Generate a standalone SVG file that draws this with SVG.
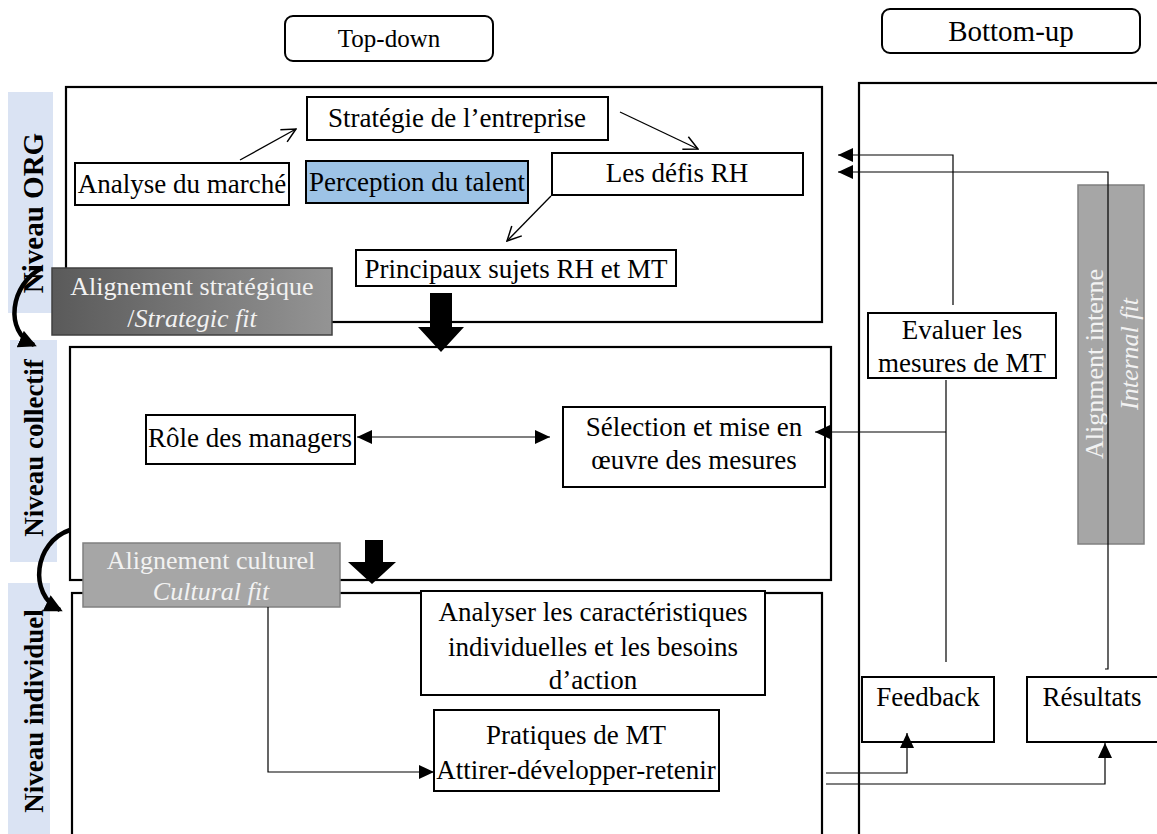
<svg xmlns="http://www.w3.org/2000/svg" width="1157" height="834" viewBox="0 0 1157 834">
<defs>
<style>
.t{font-family:"Liberation Serif","Times New Roman",serif;font-size:27px;fill:#000;text-anchor:middle}
.i{font-style:italic}
.box{fill:#fff;stroke:#000;stroke-width:2}
.lvl{fill:none;stroke:#000;stroke-width:2.2}
.lbl{fill:#dae3f3}
.lt{font-family:"Liberation Serif","Times New Roman",serif;font-weight:bold;font-size:27px;text-anchor:middle;fill:#000}
.gt{font-family:"Liberation Serif","Times New Roman",serif;font-size:26px;fill:#f2f2f2;text-anchor:middle}
.c{fill:none;stroke:#000;stroke-width:1.3}
.thin{fill:none;stroke:#000;stroke-width:1.2}
.curve{fill:none;stroke:#000;stroke-width:4.5}
</style>
<marker id="open" viewBox="0 0 16 16" refX="15" refY="8" markerWidth="16" markerHeight="16" markerUnits="userSpaceOnUse" orient="auto">
<path d="M1,1 L15,8 L1,15" fill="none" stroke="#000" stroke-width="1.5"/>
</marker>
<marker id="fill" viewBox="0 0 15 14" refX="15" refY="7" markerWidth="15" markerHeight="14" markerUnits="userSpaceOnUse" orient="auto-start-reverse">
<path d="M0,0 L15,7 L0,14 z" fill="#000"/>
</marker>
<marker id="big" viewBox="0 0 18 18" refX="15" refY="9" markerWidth="18" markerHeight="18" markerUnits="userSpaceOnUse" orient="auto">
<path d="M0,0 L18,9 L0,18 z" fill="#000"/>
</marker>
<linearGradient id="g1" x1="0" y1="0" x2="1" y2="0">
<stop offset="0" stop-color="#5a5a5a"/>
<stop offset="1" stop-color="#949494"/>
</linearGradient>
</defs>
<rect width="1157" height="834" fill="#fff"/>

<g id="headers">
<g id="top-down"><rect x="285" y="16" width="208" height="45" rx="8" class="box"/><text x="389" y="47" class="t" style="font-size:25px">Top-down</text></g>
<g id="bottom-up"><rect x="882" y="9" width="258" height="44" rx="8" class="box"/><text x="1011" y="41" class="t" style="font-size:29px">Bottom-up</text></g>
</g>

<g id="levels">
<rect id="level-org" x="66" y="87" width="756" height="235" class="lvl"/>
<rect id="level-collectif" x="70" y="347" width="761" height="233" class="lvl"/>
<rect id="level-individuel" x="72" y="593" width="750" height="260" class="lvl"/>
<rect id="bottom-up-panel" x="859" y="83" width="320" height="780" class="lvl"/>
</g>

<g id="level-labels">
<g id="label-org"><rect x="8" y="92" width="45" height="221" class="lbl"/><text transform="translate(43,213) rotate(-90)" class="lt" style="font-size:29px">Niveau ORG</text></g>
<g id="label-collectif"><rect x="10" y="340" width="47" height="222" class="lbl"/><text transform="translate(43,448) rotate(-90)" class="lt">Niveau collectif</text></g>
<g id="label-individuel"><rect x="8" y="583" width="42" height="260" class="lbl"/><text transform="translate(43,711) rotate(-90)" class="lt">Niveau individuel</text></g>
</g>

<g id="fit-boxes">
<g id="strategic-fit"><rect x="52" y="268" width="280" height="67" fill="url(#g1)" stroke="#404040" stroke-width="1.5"/><text x="192" y="295" class="gt">Alignement stratégique</text><text x="192" y="327" class="gt">/<tspan class="i">Strategic fit</tspan></text></g>
<g id="cultural-fit"><rect x="83" y="543" width="257" height="64" fill="#a6a6a6" stroke="#808080" stroke-width="1.5"/><text x="211" y="569" class="gt">Alignement culturel</text><text x="211" y="600" class="gt i">Cultural fit</text></g>
<g id="internal-fit"><rect x="1078" y="185" width="66" height="359" fill="#a6a6a6" stroke="#808080" stroke-width="1.5"/><text transform="translate(1103,364) rotate(-90)" class="gt">Alignment interne</text><text transform="translate(1138,354) rotate(-90)" class="gt i">Internal fit</text></g>
</g>

<g id="nodes">
<g id="n-strategie"><rect x="307" y="97" width="301" height="43" class="box"/><text x="457" y="127" class="t">Stratégie de l’entreprise</text></g>
<g id="n-analyse"><rect x="75" y="163" width="214" height="42" class="box"/><text x="182" y="193" class="t">Analyse du marché</text></g>
<g id="n-perception"><rect x="306" y="161" width="222" height="42" fill="#9dc3e6" stroke="#000" stroke-width="2"/><text x="417" y="191" class="t">Perception du talent</text></g>
<g id="n-defis"><rect x="552" y="153" width="251" height="42" class="box"/><text x="677" y="182" class="t">Les défis RH</text></g>
<g id="n-principaux"><rect x="356" y="250" width="320" height="36" class="box"/><text x="516" y="278" class="t">Principaux sujets RH et MT</text></g>
<g id="n-role"><rect x="146" y="415" width="209" height="49" class="box"/><text x="250" y="447" class="t">Rôle des managers</text></g>
<g id="n-selection"><rect x="563" y="407" width="262" height="80" class="box"/><text x="694" y="436" class="t">Sélection et mise en</text><text x="694" y="469" class="t">œuvre des mesures</text></g>
<g id="n-analyser"><rect x="421" y="591" width="344" height="104" class="box"/><text x="593" y="621" class="t">Analyser les caractéristiques</text><text x="593" y="656" class="t">individuelles et les besoins</text><text x="593" y="689" class="t">d’action</text></g>
<g id="n-pratiques"><rect x="434" y="710" width="285" height="81" class="box"/><text x="576" y="744" class="t">Pratiques de MT</text><text x="576" y="779" class="t">Attirer-développer-retenir</text></g>
<g id="n-evaluer"><rect x="868" y="313" width="188" height="65" class="box"/><text x="962" y="339" class="t">Evaluer les</text><text x="962" y="372" class="t">mesures de MT</text></g>
<g id="n-feedback"><rect x="862" y="677" width="132" height="65" class="box"/><text x="928" y="706" class="t">Feedback</text></g>
<g id="n-resultats"><rect x="1027" y="677" width="140" height="65" class="box"/><text x="1092" y="706" class="t">Résultats</text></g>
</g>

<g id="connectors">
<line x1="240" y1="160" x2="296" y2="129" class="c" marker-end="url(#open)"/>
<line x1="620" y1="112" x2="698" y2="149" class="c" marker-end="url(#open)"/>
<line x1="551" y1="196" x2="507" y2="241" class="c" marker-end="url(#open)"/>
<polygon points="430,293 452,293 452,327 464,327 441,352 418,327 430,327" fill="#000"/>
<polygon points="365,540 383,540 383,562 396,562 372,584 348,562 365,562" fill="#000"/>
<line x1="357" y1="437" x2="550" y2="437" class="thin" marker-start="url(#fill)" marker-end="url(#fill)"/>
<polyline points="946,432 815,432" class="thin" marker-end="url(#fill)"/>
<polyline points="946,380 946,662" class="thin"/>
<polyline points="953,305 953,155 838,155" class="thin" marker-end="url(#fill)"/>
<polyline points="1105,669 1108,669 1108,172 838,172" class="thin" marker-end="url(#fill)"/>
<polyline points="268,607 268,772 434,772" class="thin" marker-end="url(#fill)"/>
<polyline points="826,773 907,773 907,733" class="thin" marker-end="url(#fill)"/>
<polyline points="826,784 1105,784 1105,743" class="thin" marker-end="url(#fill)"/>
<path d="M42,268 C10,284 4,332 34,345" class="curve" marker-end="url(#big)"/>
<path d="M70,530 C34,542 28,594 60,610" class="curve" marker-end="url(#big)"/>
</g>
</svg>
